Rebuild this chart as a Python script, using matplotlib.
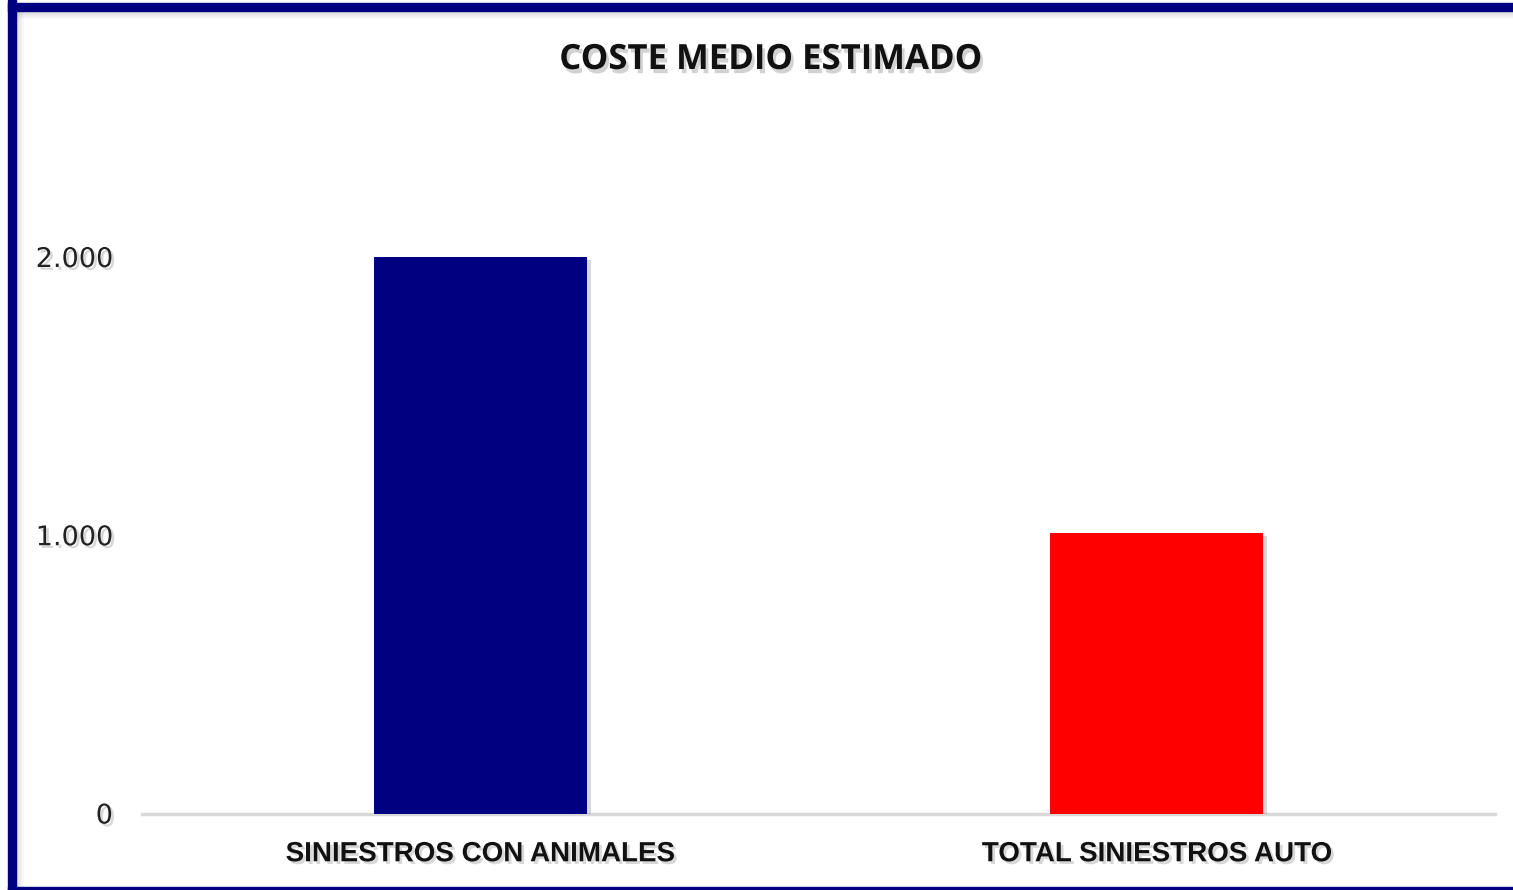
import matplotlib
matplotlib.use("Agg")
import matplotlib.pyplot as plt
import matplotlib.patheffects as pe
from matplotlib.patches import Rectangle
from matplotlib.ticker import FuncFormatter

categories = ["SINIESTROS CON ANIMALES", "TOTAL SINIESTROS AUTO"]
values = [2000, 1007]
colors = ["#000080", "#FF0000"]
yticks = [0, 1000, 2000]

W, H = 1513, 890
fig = plt.figure(figsize=(W / 100, H / 100), dpi=100)
fig.patch.set_facecolor("white")

# frame
navy = "#000080"
fig.add_artist(Rectangle((8 / W, 0), 8 / W, 1, transform=fig.transFigure, color=navy, zorder=5))
fig.add_artist(Rectangle((8 / W, 1 - 11 / H), 1, 8 / H, transform=fig.transFigure, color=navy, zorder=5))
fig.add_artist(Rectangle((8 / W, 0), 1, 3.5 / H, transform=fig.transFigure, color=navy, zorder=5))
# inner shadow
for i in range(8):
    a = 0.28 * (1 - i / 8)
    fig.add_artist(Rectangle(((16 + i) / W, 0), 1 / W, 1 - 11 / H, transform=fig.transFigure,
                             color="gray", alpha=a, lw=0, zorder=4))
    fig.add_artist(Rectangle((16 / W, 1 - (12 + i) / H), 1, 1 / H, transform=fig.transFigure,
                             color="gray", alpha=a, lw=0, zorder=4))

left, right = 142 / W, 1495 / W
bottom, top = 1 - 813.5 / H, 1 - 257 / H
ax = fig.add_axes([left, bottom, right - left, top - bottom])
x = list(range(len(categories)))
bars = ax.bar(x, values, width=0.315, color=colors, zorder=3)
for b in bars:
    b.set_path_effects([pe.SimplePatchShadow(offset=(3, -2), shadow_rgbFace="gray", alpha=0.3), pe.Normal()])

ax.set_xlim(-0.5, 1.5)
ax.set_ylim(0, 2000)
ax.set_yticks(yticks)
ax.yaxis.set_major_formatter(FuncFormatter(lambda v, p: f"{int(v):,}".replace(",", ".")))
ax.set_xticks(x)
ax.set_xticklabels(categories)
for s in ["top", "right", "left"]:
    ax.spines[s].set_visible(False)
ax.spines["bottom"].set_color("#d9d9d9")
ax.spines["bottom"].set_linewidth(2.5)
ax.tick_params(axis="both", length=0)
ax.tick_params(axis="y", pad=21)
ax.tick_params(axis="x", pad=20)

shadow = [pe.withSimplePatchShadow(offset=(2, -2), shadow_rgbFace="gray", alpha=0.3)]
for t in ax.get_yticklabels():
    t.set_fontsize(19.5)
    t.set_color("#222222")
    t.set_path_effects(shadow)
for t in ax.get_xticklabels():
    t.set_fontsize(20)
    t.set_fontweight("bold")
    t.set_family("Liberation Sans")
    t.set_color("#111111")
    t.set_path_effects(shadow)

fig.text(771 / W, 1 - 60 / H, "COSTE MEDIO ESTIMADO", ha="center", va="center",
         fontsize=25, fontweight="bold", family="Open Sans", color="#111111",
         path_effects=[pe.withSimplePatchShadow(offset=(2, -3), shadow_rgbFace="gray", alpha=0.35)])

fig.savefig("out.png", dpi=100)
